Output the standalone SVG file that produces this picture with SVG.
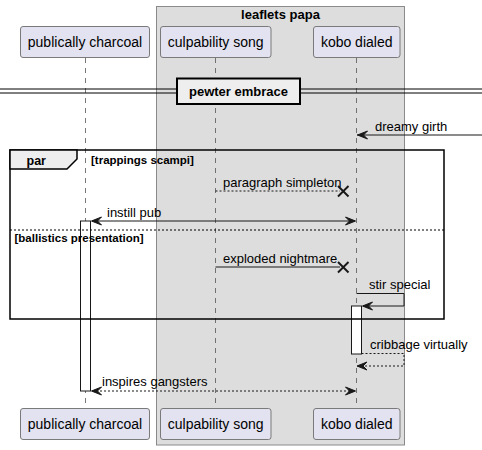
<svg xmlns="http://www.w3.org/2000/svg" width="482" height="450" viewBox="0 0 482 450">
<style>
text{font-family:"Liberation Sans",Arial,sans-serif;fill:#000}
.part{fill:#E2E2F0;stroke:#7a7a7a;stroke-width:1}
.pt{font-size:14px;text-anchor:middle}
.msg{font-size:13px}
.b11{font-size:11.5px;font-weight:bold}
.life{stroke:#555;stroke-width:0.8;stroke-dasharray:5,5}
.line{stroke:#181818;stroke-width:1;fill:none}
.dash{stroke:#181818;stroke-width:1;fill:none;stroke-dasharray:2,2}
.head{fill:#181818;stroke:#181818;stroke-width:1}
.act{fill:#fff;stroke:#181818;stroke-width:1}
.x{stroke:#181818;stroke-width:2}
</style>
<defs>
<polygon id="hl" points="0,0 10,-4 6,0 10,4"/>
<polygon id="hr" points="0,0 -10,-4 -6,0 -10,4"/>
</defs>
<g id="box-leaflets-papa">
<rect x="156.5" y="6.5" width="248" height="438.5" fill="#DDDDDD" stroke="#8a8a8a" stroke-width="1"/>
<text x="280.5" y="19" font-size="13" font-weight="bold" text-anchor="middle">leaflets papa</text>
</g>
<g id="lifelines">
<line class="life" x1="85.5" y1="58" x2="85.5" y2="408"/>
<line class="life" x1="215.5" y1="58" x2="215.5" y2="408"/>
<line class="life" x1="356.5" y1="58" x2="356.5" y2="408"/>
</g>
<g id="divider">
<line x1="0" y1="89" x2="482" y2="89" stroke="#000" stroke-width="1"/>
<line x1="0" y1="93" x2="482" y2="93" stroke="#000" stroke-width="1"/>
<rect x="177" y="78.5" width="123" height="25.5" fill="#EEEEEE" stroke="#000" stroke-width="2"/>
<text x="238.5" y="96" font-size="13" font-weight="bold" text-anchor="middle">pewter embrace</text>
</g>
<g id="activations">
<rect class="act" x="80.5" y="221" width="10" height="170"/>
<rect class="act" x="351.5" y="306" width="10" height="48"/>
</g>
<g id="frame-par">
<rect x="10" y="150" width="434" height="169" fill="none" stroke="#000" stroke-width="1.5"/>
<polygon points="10,150 77,150 77,159 67,169 10,169" fill="#EEEEEE" stroke="#000" stroke-width="1.5"/>
<text x="26.5" y="165" font-size="12.5" font-weight="bold">par</text>
<text class="b11" x="91" y="163.5">[trappings scampi]</text>
<line x1="10" y1="230" x2="444" y2="230" stroke="#000" stroke-width="1" stroke-dasharray="2,2"/>
<text class="b11" x="14.5" y="242">[ballistics presentation]</text>
</g>
<g id="connectors">
<line class="line" x1="482" y1="135" x2="357" y2="135"/>
<use href="#hl" class="head" x="357.5" y="135"/>
<text class="msg" x="375" y="131">dreamy girth</text>

<line class="dash" x1="215.5" y1="191" x2="340" y2="191"/>
<line class="x" x1="338" y1="186" x2="348.5" y2="196.5"/>
<line class="x" x1="348.5" y1="186" x2="338" y2="196.5"/>
<text class="msg" x="223" y="187">paragraph simpleton</text>

<line class="line" x1="92" y1="221" x2="355" y2="221"/>
<use href="#hl" class="head" x="91.5" y="221"/>
<use href="#hr" class="head" x="355.5" y="221"/>
<text class="msg" x="107" y="217">instill pub</text>

<line class="line" x1="215.5" y1="267" x2="340" y2="267"/>
<line class="x" x1="338" y1="262" x2="348.5" y2="272.5"/>
<line class="x" x1="348.5" y1="262" x2="338" y2="272.5"/>
<text class="msg" x="223" y="263">exploded nightmare</text>

<polyline class="line" points="356.5,293.5 404,293.5 404,306 363,306"/>
<use href="#hl" class="head" x="362.5" y="306"/>
<text class="msg" x="369" y="289">stir special</text>

<polyline class="dash" points="361.5,353.5 404,353.5 404,366 358,366"/>
<use href="#hl" class="head" x="357" y="366"/>
<text class="msg" x="370" y="349">cribbage virtually</text>

<line class="dash" x1="92" y1="391" x2="355" y2="391"/>
<use href="#hl" class="head" x="91.5" y="391"/>
<use href="#hr" class="head" x="355.5" y="391"/>
<text class="msg" x="102" y="386">inspires gangsters</text>
</g>
<g id="publically-charcoal">
<rect class="part" x="20.5" y="26.5" width="129" height="31" rx="2.5"/>
<text class="pt" x="85" y="47">publically charcoal</text>
<rect class="part" x="20.5" y="408.5" width="129" height="31" rx="2.5"/>
<text class="pt" x="85" y="429">publically charcoal</text>
</g>
<g id="culpability-song">
<rect class="part" x="160.5" y="26.5" width="110.5" height="31" rx="2.5"/>
<text class="pt" x="215.7" y="47">culpability song</text>
<rect class="part" x="160.5" y="408.5" width="110.5" height="31" rx="2.5"/>
<text class="pt" x="215.7" y="429">culpability song</text>
</g>
<g id="kobo-dialed">
<rect class="part" x="313.5" y="26.5" width="86.5" height="31" rx="2.5"/>
<text class="pt" x="356.7" y="47">kobo dialed</text>
<rect class="part" x="313.5" y="408.5" width="86.5" height="31" rx="2.5"/>
<text class="pt" x="356.7" y="429">kobo dialed</text>
</g>
</svg>
